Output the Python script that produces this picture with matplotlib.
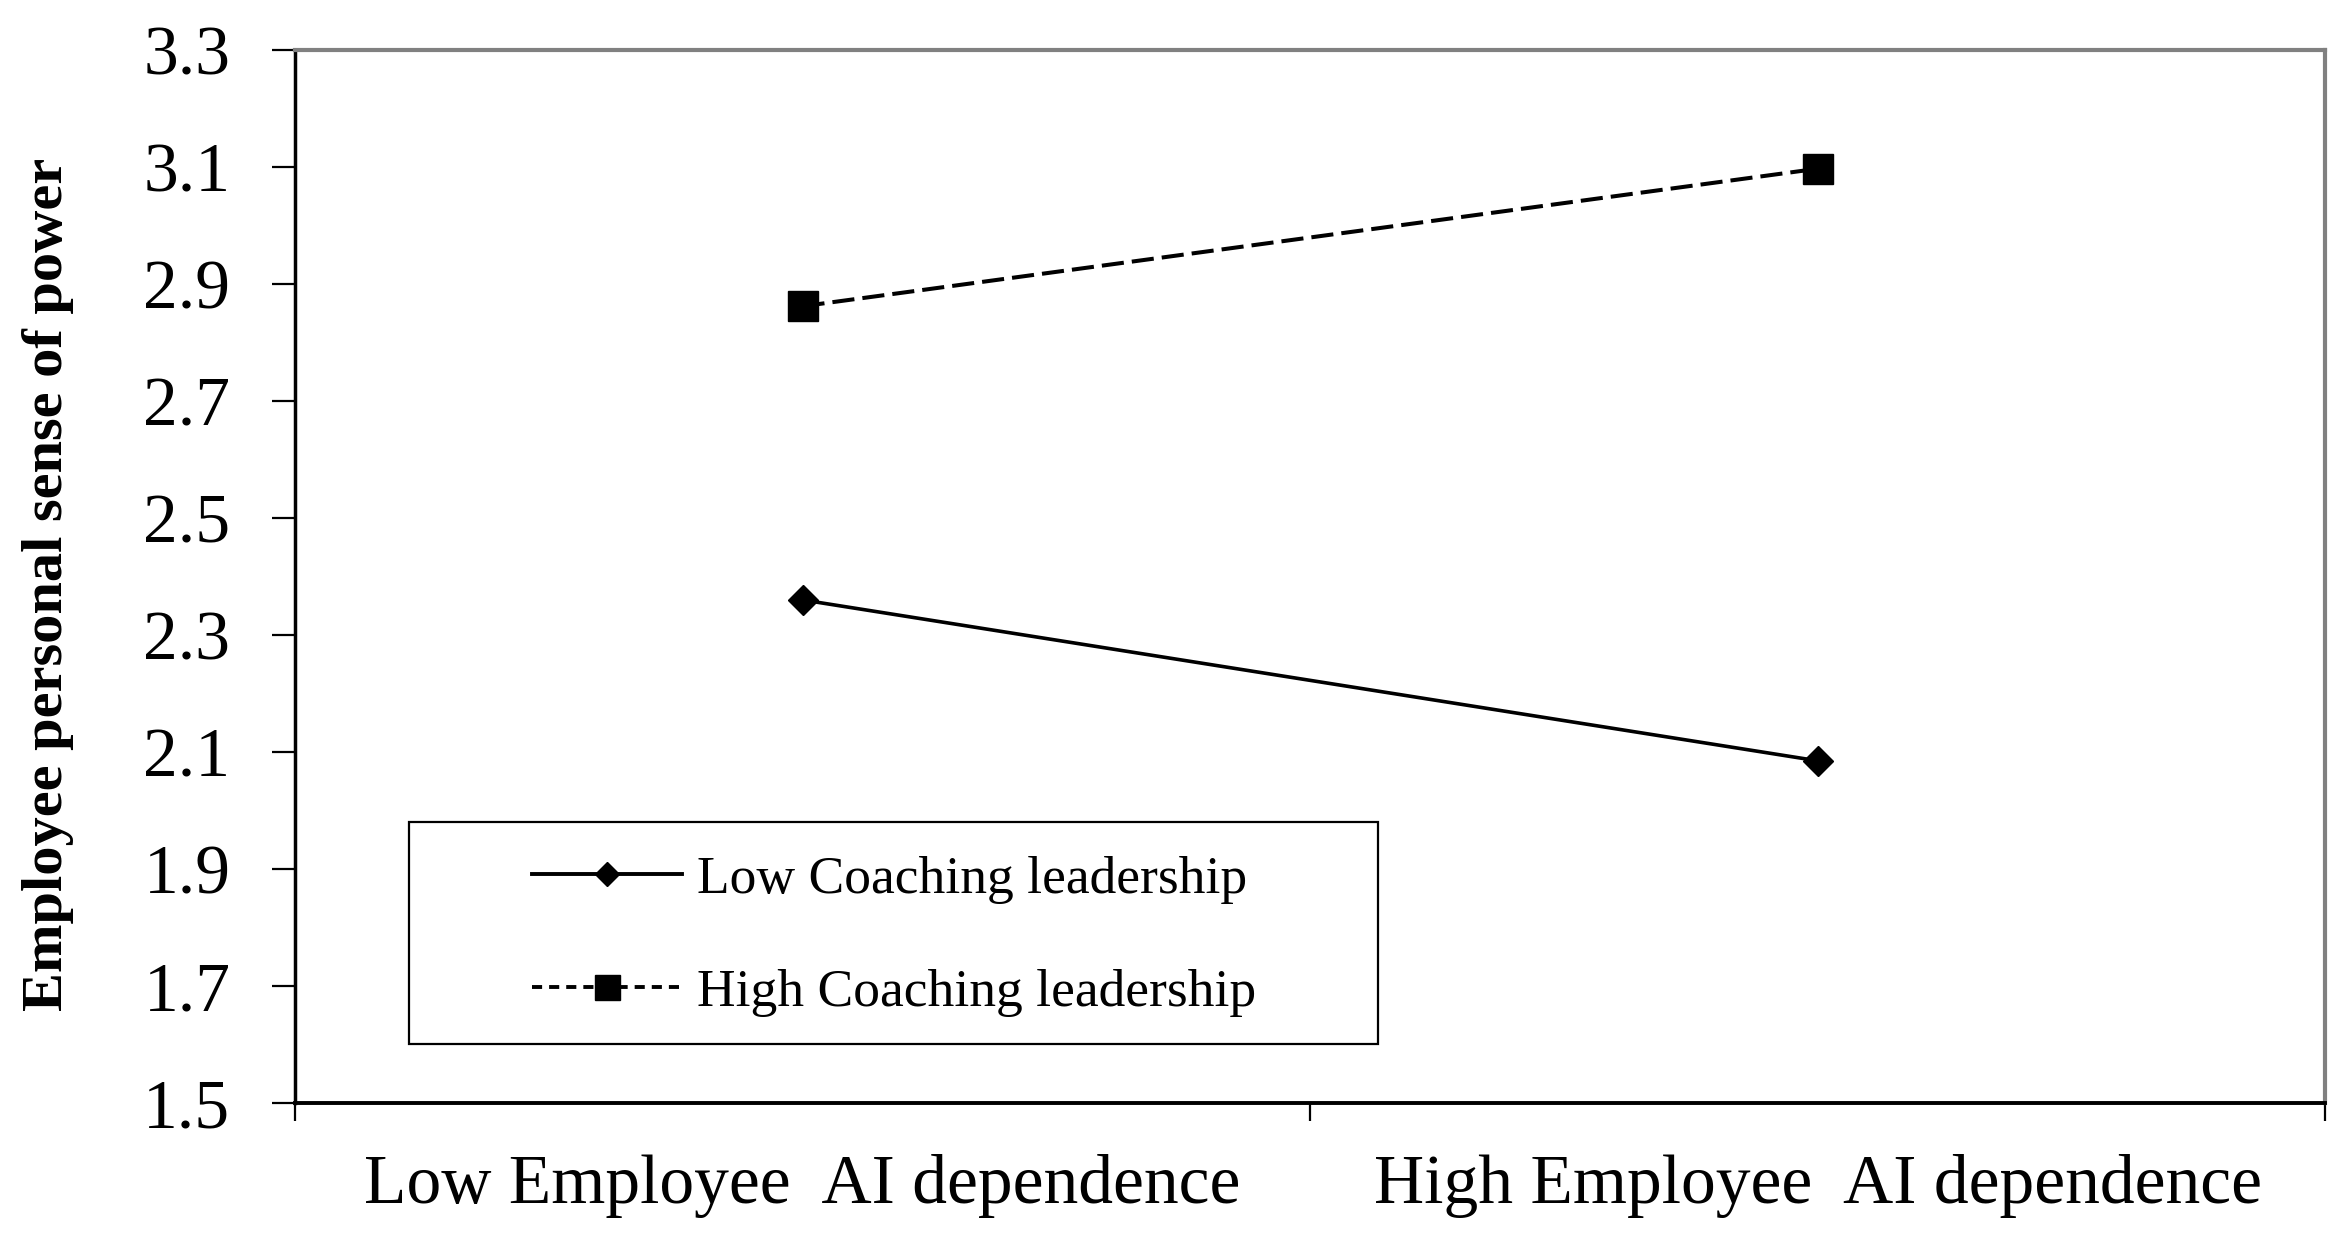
import matplotlib.pyplot as plt
from matplotlib.patches import Rectangle
from matplotlib.lines import Line2D

plt.rcParams['font.family'] = ['Liberation Serif', 'DejaVu Serif']

# data
groups = ['Low Employee  AI dependence', 'High Employee  AI dependence']
low_coaching = [2.36, 2.085]
high_coaching = [2.862, 3.097]
series_names = ['Low Coaching leadership', 'High Coaching leadership']
yticks = [1.5, 1.7, 1.9, 2.1, 2.3, 2.5, 2.7, 2.9, 3.1, 3.3]

fig = plt.figure(figsize=(23.49, 12.40), dpi=100)
ax = fig.add_axes([295 / 2349, 1 - 1103 / 1240, 2030 / 2349, 1053 / 1240])

x = list(range(len(groups)))
ax.plot(x, low_coaching, color='black', lw=2.6, marker='D', ms=15,
        label=series_names[0])
ax.plot(x, high_coaching, color='black', lw=2.9, ls=(0, (5.5, 2)),
        marker='s', ms=21, label=series_names[1])

ax.set_xlim(-0.5, 1.5)
ax.set_ylim(1.5, 3.3)
ax.set_yticks(yticks)
ax.set_yticklabels([f'{v:.1f}' for v in yticks])
ax.set_xticks(x)
ax.set_xticklabels(groups)
ax.set_xticks([-0.5, 0.5, 1.5], minor=True)

ax.tick_params(axis='y', labelsize=50, length=16.5, width=1.6, pad=30,
               direction='out', color='black')
ax.tick_params(axis='x', which='major', labelsize=50, length=0, pad=37)
ax.tick_params(axis='x', which='minor', length=13, width=1.6,
               direction='out')

ax.spines['left'].set_color('black')
ax.spines['left'].set_linewidth(2.5)
ax.spines['bottom'].set_color('black')
ax.spines['bottom'].set_linewidth(2.8)
ax.spines['top'].set_color('#808080')
ax.spines['top'].set_linewidth(3)
ax.spines['right'].set_color('#808080')
ax.spines['right'].set_linewidth(3)

fig.text(0.0205, 0.5286, 'Employee personal sense of power', rotation=90,
         ha='center', va='center', fontsize=42, fontweight='bold')

# legend, drawn without frame and boxed by hand
handles = [
    Line2D([], [], color='black', lw=2.8, marker='D', ms=12),
    Line2D([], [], color='black', lw=2.8, ls=(0, (2.6, 1.8)), marker='s', ms=18),
]
ax.legend(handles, series_names, loc='center left',
          bbox_to_anchor=(0.1167, 0.1587), frameon=False, fontsize=38.5,
          handlelength=2.8, handletextpad=0.28, borderpad=0,
          borderaxespad=0, labelspacing=1.21)
ax.add_patch(Rectangle((0.0562, 0.056), 0.4773, 0.2108, transform=ax.transAxes,
                       fill=False, edgecolor='black', lw=1.6, zorder=5))

fig.savefig('out.png', dpi=100)
